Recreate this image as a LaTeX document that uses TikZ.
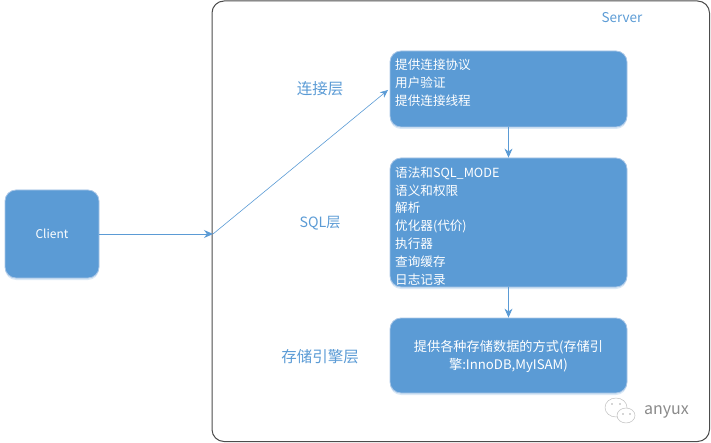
\documentclass[tikz,border=0pt]{standalone}
\usepackage{fontspec}
\setmainfont{Noto Sans CJK SC}
\usetikzlibrary{arrows.meta,shadows}
\definecolor{boxblue}{HTML}{5B9BD5}
\definecolor{boxedge}{HTML}{A9C6E6}
\definecolor{markgray}{HTML}{8A8A8A}
\tikzset{
	blockbox/.style={draw=boxedge,line width=0.8pt,fill=boxblue,rounded corners=11pt,text=white,
		font=\fontsize{12}{18}\selectfont,inner sep=0pt,
		drop shadow={shadow xshift=0pt,shadow yshift=-2pt,opacity=0.22,fill=boxblue}},
	boxtext/.style={text=white,font=\fontsize{12.6}{#1}\selectfont,align=left,inner sep=0pt},
	layerlabel/.style={text=boxblue,font=\fontsize{15.5}{18}\selectfont},
	linkarrow/.style={boxblue,line width=0.9pt,-{Stealth[length=9pt,width=8pt]}},
	bubble/.style={draw=markgray!55,line width=0.5pt,fill=white},
}
\begin{document}
\begin{tikzpicture}[x=1pt,y=-1pt,line join=round,line cap=round]
\useasboundingbox (0,0) rectangle (711,443);
\node[draw=black!70,line width=1pt,rounded corners=12pt,minimum width=497.5pt,minimum height=440.5pt,inner sep=0pt] (serverbox) at (460.75,221.25) {};
\node[text=boxblue,font=\fontsize{13.5}{16}\selectfont] (server) at (622,18) {Server};
% boxes
\node[blockbox,minimum width=94pt,minimum height=88pt] (client) at (52,234) {Client};
\node[blockbox,minimum width=237pt,minimum height=76pt] (conn) at (508.5,89) {};
\node[blockbox,minimum width=237pt,minimum height=129pt] (sql) at (508.5,222.5) {};
\node[blockbox,minimum width=237pt,minimum height=75pt] (store) at (508.5,355.5) {};
% texts inside the boxes
\node[boxtext=18,anchor=north west] (conntext) at (395,59) {提供连接协议\\用户验证\\提供连接线程};
\node[boxtext=17.8,anchor=north west] (sqltext) at (395,166.5) {语法和SQL\_MODE\\语义和权限\\解析\\优化器(代价)\\执行器\\查询缓存\\日志记录};
\node[boxtext=18,align=center,font=\fontsize{13.2}{18}\selectfont] (storetext) at (508.5,356.5) {提供各种存储数据的方式(存储引\\擎:InnoDB,MyISAM)};
% layer names
\node[layerlabel] (connlabel) at (320,89) {连接层};
\node[layerlabel,font=\fontsize{14.2}{18}\selectfont] (sqllabel) at (320,223) {SQL层};
\node[layerlabel] (storelabel) at (320,357) {存储引擎层};
% arrows
\coordinate (entry) at (213,234);
\draw[linkarrow] (client.east|-entry)--(entry);
\draw[boxblue,line width=0.6pt,-{Stealth[length=8pt,width=7pt]}] (entry)--(388,90);
\draw[linkarrow] (conn.south)--(sql.north);
\draw[linkarrow] (sql.south)--(store.north);
% watermark
\draw[bubble] (616,407.5) ellipse (11pt and 9.5pt);
\draw[bubble] (626,415.5) ellipse (9pt and 7.5pt);
\foreach \px/\py in {612/404,620/404,623/414,630/414} \fill[markgray!70] (\px,\py) circle (0.8pt);
\node[text=markgray,font=\fontsize{16}{18}\selectfont] (mark) at (666.5,412) {anyux};
\end{tikzpicture}
\end{document}
